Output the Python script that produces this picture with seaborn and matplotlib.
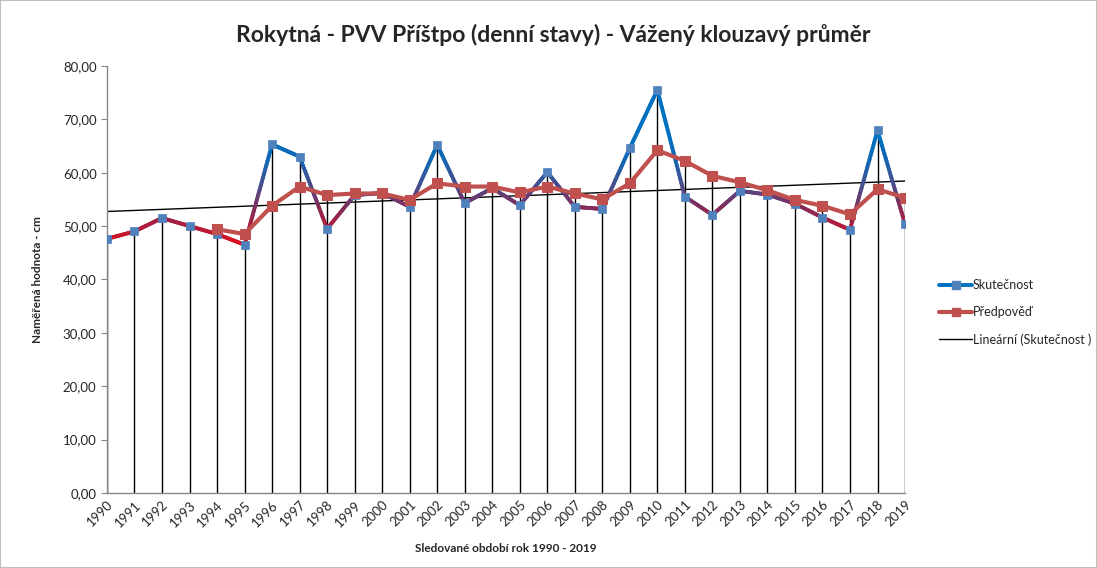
import numpy as np
import pandas as pd
import matplotlib
matplotlib.use("Agg")
import matplotlib.pyplot as plt
import seaborn as sns
from matplotlib.collections import LineCollection
from matplotlib.colors import LinearSegmentedColormap, Normalize
from matplotlib.lines import Line2D
from matplotlib.patches import Rectangle
from matplotlib.ticker import FuncFormatter

# Data
years = list(range(1990, 2020))
skutecnost = [47.6, 49.0, 51.5, 50.0, 48.5, 46.5, 65.3, 63.0, 49.5, 55.8,
              56.2, 53.6, 65.2, 54.3, 57.1, 53.9, 60.1, 53.6, 53.2, 64.6,
              75.5, 55.5, 52.1, 56.6, 55.9, 54.2, 51.6, 49.3, 67.9, 50.4]
pred_years = list(range(1994, 2020))
predpoved = [49.4, 48.5, 53.8, 57.4, 55.8, 56.1, 56.1, 54.9, 58.0, 57.4,
             57.4, 56.3, 57.4, 56.1, 55.0, 58.0, 64.2, 62.2, 59.4, 58.2,
             56.7, 54.9, 53.8, 52.2, 56.9, 55.3]

title = "Rokytná - PVV Příštpo (denní stavy) - Vážený klouzavý průměr"
y_label = "Naměřená hodnota - cm"
x_label = "Sledované období rok 1990 - 2019"
labels = ["Skutečnost", "Předpověď", "Lineární (Skutečnost )"]

df_s = pd.DataFrame({"rok": years, "hodnota": skutecnost})
df_p = pd.DataFrame({"rok": pred_years, "hodnota": predpoved})

sns.set_style("white")
plt.rcParams["font.family"] = ["Lato", "DejaVu Sans"]

fig = plt.figure(figsize=(10.97, 5.68), dpi=100)
ax = fig.add_axes([0.0975, 0.132, 0.7275, 0.752])

# drop lines from the highest point of each year down to zero
top = df_s.set_index("rok")["hodnota"].copy()
top = np.maximum(top, df_p.set_index("rok")["hodnota"].reindex(top.index).fillna(0))
ax.vlines(years, 0, top.values, colors="black", lw=1, zorder=1)

# linear trend of Skutečnost
coef = np.polyfit(years, skutecnost, 1)
ax.plot([years[0], years[-1]], np.polyval(coef, [years[0], years[-1]]),
        color="black", lw=1, zorder=2)

# Skutečnost line with vertical colour gradient (red low -> blue high)
cmap = LinearSegmentedColormap.from_list(
    "grad", [(0.0, "#E8101A"), (0.2, "#B01C3A"), (0.4, "#7B3060"),
             (0.6, "#46508F"), (0.8, "#1565B0"), (1.0, "#0070C0")])
norm = Normalize(46, 66)
segs, cols = [], []
for i in range(len(years) - 1):
    xs = np.linspace(years[i], years[i + 1], 25)
    ys = np.linspace(skutecnost[i], skutecnost[i + 1], 25)
    for j in range(24):
        segs.append([(xs[j], ys[j]), (xs[j + 1], ys[j + 1])])
        cols.append(cmap(norm((ys[j] + ys[j + 1]) / 2)))
ax.add_collection(LineCollection(segs, colors=cols, linewidths=2.8,
                                 capstyle="round", zorder=3))
sns.scatterplot(data=df_s, x="rok", y="hodnota", marker="s", s=40,
                color="#4F81BD", edgecolor="#4F81BD", ax=ax, zorder=4,
                legend=False)

# Předpověď
sns.lineplot(data=df_p, x="rok", y="hodnota", color="#C0504D", lw=3,
             marker="s", markersize=7, markeredgecolor="#C0504D",
             ax=ax, zorder=5, legend=False)

ax.set_xlim(1990, 2019)
ax.set_ylim(0, 80)
ax.set_xticks(years)
ax.set_xticklabels([str(y) for y in years], rotation=45, ha="right",
                   rotation_mode="anchor", fontsize=9.5)
ax.set_yticks(range(0, 81, 10))
ax.yaxis.set_major_formatter(FuncFormatter(lambda v, p: f"{v:.2f}".replace(".", ",")))
ax.tick_params(axis="y", labelsize=9.5, length=4, color="#868686", direction="out", left=True)
ax.tick_params(axis="x", length=0, pad=4)
for s in ["top", "right"]:
    ax.spines[s].set_visible(False)
for s in ["left", "bottom"]:
    ax.spines[s].set_color("#868686")
    ax.spines[s].set_linewidth(1)

ax.set_xlabel(x_label, fontsize=8.5, fontweight="bold", labelpad=10)
ax.set_ylabel(y_label, fontsize=8.5, fontweight="bold", labelpad=14)
fig.text(0.504, 0.938, title, ha="center", va="center", fontsize=16.5, fontweight="bold")

handles = [
    Line2D([], [], color="#0070C0", lw=2.8, marker="s", markersize=6,
           markerfacecolor="#4F81BD", markeredgecolor="#4F81BD"),
    Line2D([], [], color="#C0504D", lw=3, marker="s", markersize=6,
           markerfacecolor="#C0504D", markeredgecolor="#C0504D"),
    Line2D([], [], color="black", lw=1),
]
fig.legend(handles, labels, loc="center left", bbox_to_anchor=(0.846, 0.45),
           frameon=False, fontsize=9, handlelength=2.6, handletextpad=0.1,
           labelspacing=1.2)

fig.patches.append(Rectangle((0, 0), 1, 1, transform=fig.transFigure,
                             fill=False, edgecolor="#BFBFBF", lw=1.5))

fig.savefig("out.png", dpi=100)
